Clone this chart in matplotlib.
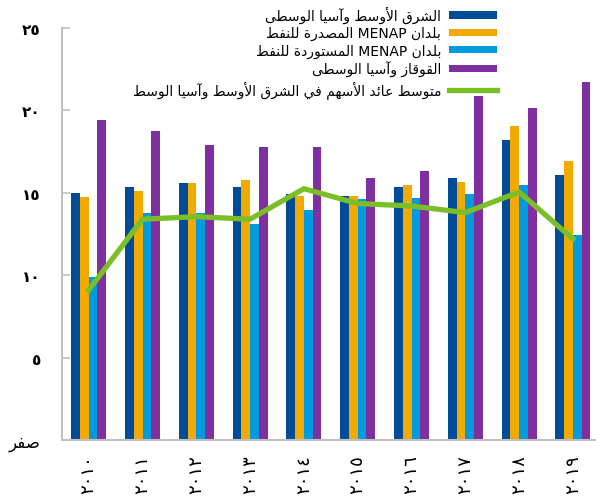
import matplotlib
matplotlib.use("Agg")
import matplotlib.pyplot as plt
import numpy as np

years = ["٢٠١٠", "٢٠١١", "٢٠١٢", "٢٠١٣", "٢٠١٤", "٢٠١٥", "٢٠١٦", "٢٠١٧", "٢٠١٨", "٢٠١٩"]
mcd = [15.0, 15.35, 15.6, 15.35, 14.9, 14.8, 15.35, 15.9, 18.2, 16.1]
menap_exp = [14.75, 15.1, 15.6, 15.8, 14.8, 14.8, 15.45, 15.65, 19.05, 16.95]
menap_imp = [9.9, 13.8, 13.8, 13.1, 13.95, 14.6, 14.7, 14.9, 15.45, 12.45]
cca = [19.4, 18.75, 17.9, 17.8, 17.8, 15.9, 16.3, 20.9, 20.15, 21.75]
avg_return = [9.1, 13.4, 13.55, 13.4, 15.25, 14.35, 14.2, 13.8, 15.05, 12.2]

labels = ["الشرق الأوسط وآسيا الوسطى",
          "بلدان MENAP المصدرة للنفط",
          "بلدان MENAP المستوردة للنفط",
          "القوقاز وآسيا الوسطى",
          "متوسط عائد الأسهم في الشرق الأوسط وآسيا الوسط"]
ytick_labels = ["صفر", "٥", "١٠", "١٥", "٢٠", "٢٥"]

colors = ["#004c97", "#f2a900", "#009ade", "#7f2fa0"]
LINE_COLOR = "#7abf27"

# --- minimal Arabic shaping (presentation forms) + RTL word order ---
DUAL = {'ب': 0xFE8F, 'ت': 0xFE95, 'ث': 0xFE99, 'ج': 0xFE9D, 'ح': 0xFEA1, 'خ': 0xFEA5,
        'س': 0xFEB1, 'ش': 0xFEB5, 'ص': 0xFEB9, 'ض': 0xFEBD, 'ط': 0xFEC1, 'ظ': 0xFEC5,
        'ع': 0xFEC9, 'غ': 0xFECD, 'ف': 0xFED1, 'ق': 0xFED5, 'ك': 0xFED9, 'ل': 0xFEDD,
        'م': 0xFEE1, 'ن': 0xFEE5, 'ه': 0xFEE9, 'ي': 0xFEF1, 'ئ': 0xFE89}
RIGHT = {'آ': 0xFE81, 'أ': 0xFE83, 'ؤ': 0xFE85, 'إ': 0xFE87, 'ا': 0xFE8D, 'ة': 0xFE93,
         'د': 0xFEA9, 'ذ': 0xFEAB, 'ر': 0xFEAD, 'ز': 0xFEAF, 'و': 0xFEED, 'ى': 0xFEEF}
LAM_ALEF = {'آ': 0xFEF5, 'أ': 0xFEF7, 'إ': 0xFEF9, 'ا': 0xFEFB}


def shape_word(w):
    chars, i = [], 0
    while i < len(w):
        if w[i] == 'ل' and i + 1 < len(w) and w[i + 1] in LAM_ALEF:
            chars.append(('LA', w[i + 1]))
            i += 2
        else:
            chars.append(w[i])
            i += 1

    def joins_next(c):
        return isinstance(c, tuple) or c in DUAL or c in RIGHT

    out = []
    for k, c in enumerate(chars):
        prev = chars[k - 1] if k > 0 else None
        nxt = chars[k + 1] if k + 1 < len(chars) else None
        p = isinstance(prev, str) and prev in DUAL
        if isinstance(c, tuple):
            out.append(chr(LAM_ALEF[c[1]] + (1 if p else 0)))
        elif c in DUAL:
            n = nxt is not None and joins_next(nxt)
            out.append(chr(DUAL[c] + (3 if p and n else 1 if p else 2 if n else 0)))
        elif c in RIGHT:
            out.append(chr(RIGHT[c] + (1 if p else 0)))
        else:
            out.append(c)
    return ''.join(reversed(out))


def ar(text):
    words = []
    for w in text.split(' '):
        if any('\u0621' <= ch <= '\u064A' for ch in w):
            words.append(shape_word(w))
        else:
            words.append(w)
    return ' '.join(reversed(words))


plt.rcParams['font.family'] = ['DejaVu Sans']

fig = plt.figure(figsize=(5.96, 5.02), dpi=100)
ax = fig.add_axes([0.1037, 0.1215, 0.9027, 0.8207])

x = np.arange(len(years))
w = 0.1625
series = [mcd, menap_exp, menap_imp, cca]
handles = []
for j, (vals, c) in enumerate(zip(series, colors)):
    h = ax.bar(x + (j - 1.5) * w, vals, width=w, color=c, zorder=2)
    handles.append(h)
line, = ax.plot(x, avg_return, color=LINE_COLOR, lw=3.8, zorder=3,
                solid_joinstyle='miter')
handles.append(line)

ax.set_xlim(-0.5, 9.5)
ax.set_ylim(0, 25)
ax.set_yticks([0, 5, 10, 15, 20, 25])
ax.set_yticklabels([ar(t) for t in ytick_labels], fontsize=12)
for t in ax.get_yticklabels()[1:]:
    t.set_fontweight('bold')
    t.set_fontsize(11)
ax.set_xticks(x)
ax.set_xticklabels(years, rotation=90, fontsize=13, va='top')

for s in ["top", "right"]:
    ax.spines[s].set_visible(False)
for s in ["left", "bottom"]:
    ax.spines[s].set_color("#c0c0c0")
    ax.spines[s].set_linewidth(1.5)
ax.tick_params(axis='y', direction='in', length=6, width=1.2, color="#c0c0c0", pad=15)
ax.tick_params(axis='x', length=0, pad=10)

fig.legend(handles, [ar(t) for t in labels], loc='upper right',
           bbox_to_anchor=(0.846, 1.0), frameon=False, markerfirst=False,
           fontsize=10, handlelength=3.45, handleheight=0.4,
           handletextpad=0.6, labelspacing=0.22, borderpad=0)

fig.savefig("out.png", dpi=100)
